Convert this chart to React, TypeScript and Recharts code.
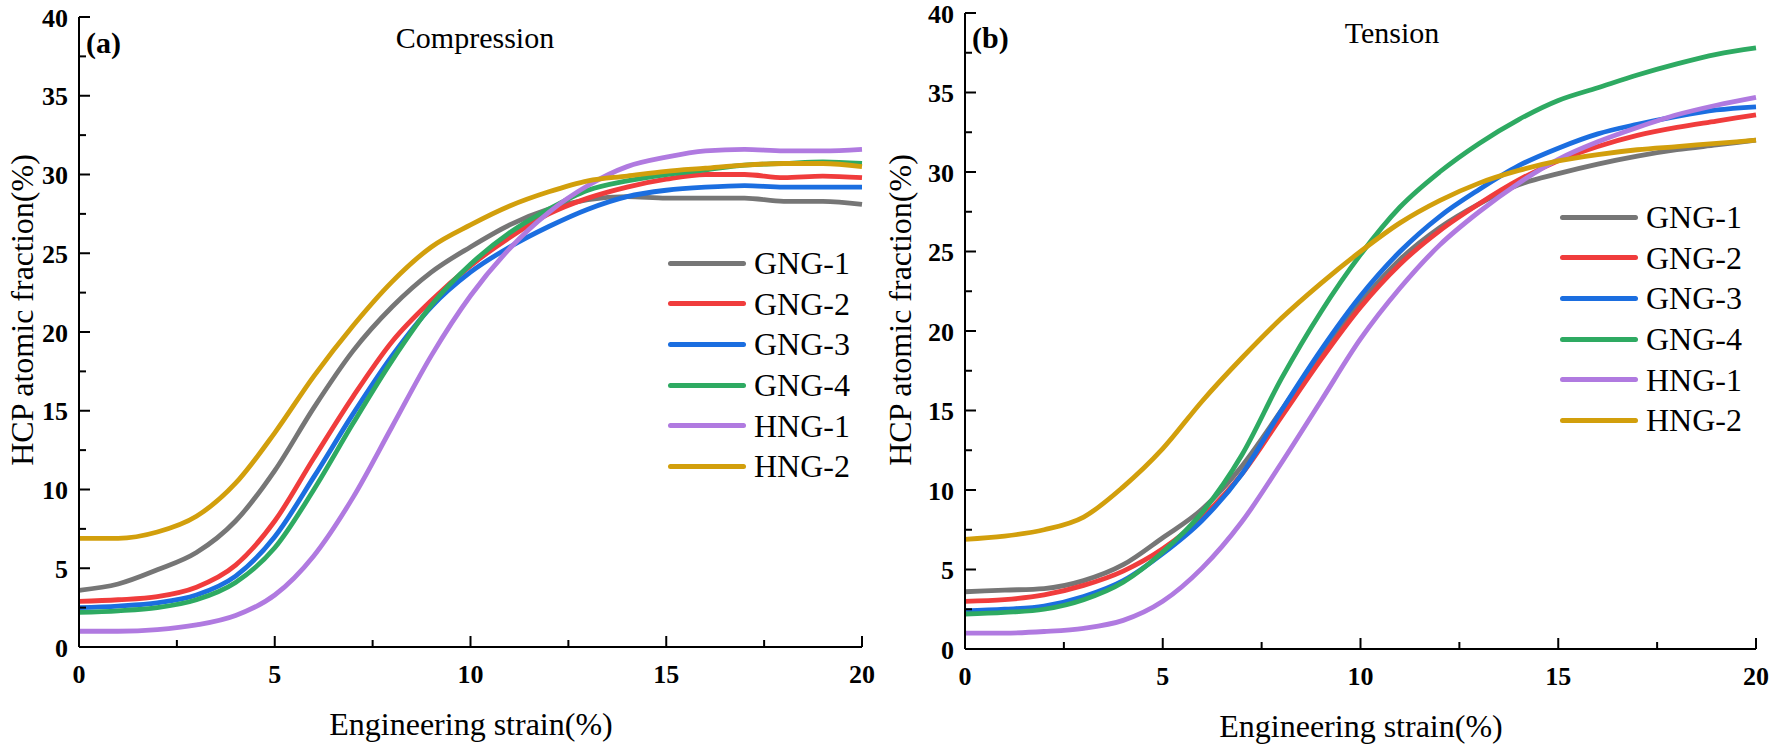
import { LineChart, Line, XAxis, YAxis, Legend } from 'recharts'

const FONT = "'Liberation Serif', 'Tinos', 'Times New Roman', 'DejaVu Serif', serif"

// engineering strain (%) sample points
const strain = [0, 1, 2, 3, 4, 5, 6, 7, 8, 9, 10, 11, 12, 13, 14, 15, 16, 17, 18, 19, 20]

const seriesNames = ['GNG-1', 'GNG-2', 'GNG-3', 'GNG-4', 'HNG-1', 'HNG-2']
const seriesColors = ['#767676', '#f03c3c', '#1b6ee0', '#2eaa62', '#b07ae0', '#d29f0c']

// (a) compression
const compGNG1 = [3.6, 4.0, 4.9, 6.0, 8.0, 11.2, 15.2, 18.8, 21.6, 23.8, 25.4, 26.8, 27.8, 28.4, 28.6, 28.5, 28.5, 28.5, 28.3, 28.3, 28.1]
const compGNG2 = [2.9, 3.0, 3.2, 3.8, 5.2, 8.0, 12.0, 15.9, 19.4, 22.0, 24.2, 26.0, 27.5, 28.5, 29.2, 29.7, 30.0, 30.0, 29.8, 29.9, 29.8]
const compGNG3 = [2.5, 2.6, 2.8, 3.3, 4.5, 7.0, 10.8, 14.8, 18.5, 21.6, 23.8, 25.4, 26.7, 27.8, 28.6, 29.0, 29.2, 29.3, 29.2, 29.2, 29.2]
const compGNG4 = [2.2, 2.3, 2.5, 3.0, 4.1, 6.3, 10.0, 14.2, 18.2, 21.7, 24.3, 26.3, 27.8, 29.0, 29.6, 30.0, 30.3, 30.6, 30.7, 30.8, 30.7]
const compHNG1 = [1.0, 1.0, 1.1, 1.4, 2.0, 3.3, 5.8, 9.5, 14.0, 18.5, 22.3, 25.3, 27.6, 29.3, 30.5, 31.1, 31.5, 31.6, 31.5, 31.5, 31.6]
const compHNG2 = [6.9, 6.9, 7.3, 8.3, 10.4, 13.6, 17.2, 20.4, 23.2, 25.4, 26.8, 28.0, 28.9, 29.6, 29.9, 30.2, 30.4, 30.6, 30.7, 30.7, 30.5]

// (b) tension
const tensGNG1 = [3.6, 3.7, 3.8, 4.3, 5.3, 7.0, 8.8, 11.5, 15.0, 18.6, 21.8, 24.5, 26.5, 28.0, 29.2, 29.9, 30.5, 31.0, 31.4, 31.7, 32.0]
const tensGNG2 = [3.0, 3.1, 3.4, 4.0, 4.9, 6.3, 8.3, 11.0, 14.6, 18.2, 21.5, 24.2, 26.3, 28.0, 29.5, 30.7, 31.6, 32.3, 32.8, 33.2, 33.6]
const tensGNG3 = [2.4, 2.5, 2.7, 3.3, 4.3, 6.0, 8.1, 11.0, 15.0, 18.8, 22.2, 25.0, 27.2, 28.9, 30.4, 31.5, 32.4, 33.0, 33.5, 33.9, 34.1]
const tensGNG4 = [2.2, 2.3, 2.5, 3.1, 4.2, 6.1, 8.6, 12.2, 17.0, 21.2, 24.8, 27.8, 30.0, 31.8, 33.3, 34.5, 35.3, 36.1, 36.8, 37.4, 37.8]
const tensHNG1 = [1.0, 1.0, 1.1, 1.3, 1.8, 3.0, 5.1, 8.0, 11.7, 15.6, 19.5, 22.7, 25.4, 27.5, 29.3, 30.8, 31.9, 32.8, 33.6, 34.2, 34.7]
const tensHNG2 = [6.9, 7.1, 7.5, 8.3, 10.2, 12.6, 15.6, 18.3, 20.8, 23.0, 25.0, 26.8, 28.2, 29.3, 30.1, 30.7, 31.1, 31.4, 31.6, 31.8, 32.0]

const xTicks = [0, 2.5, 5, 7.5, 10, 12.5, 15, 17.5, 20]
const yTicks = [0, 2.5, 5, 7.5, 10, 12.5, 15, 17.5, 20, 22.5, 25, 27.5, 30, 32.5, 35, 37.5, 40]

function buildRows(cols: number[][]) {
    return strain.map((s, i) => {
        const row: Record<string, number> = { strain: s }
        seriesNames.forEach((n, j) => {
            row[n] = cols[j][i]
        })
        return row
    })
}

const compressionRows = buildRows([compGNG1, compGNG2, compGNG3, compGNG4, compHNG1, compHNG2])
const tensionRows = buildRows([tensGNG1, tensGNG2, tensGNG3, tensGNG4, tensHNG1, tensHNG2])

const axisLine = { stroke: '#000', strokeWidth: 2 }

// inward ticks, label only on the majors
const YTick = ({ x, y, payload }: any) => {
    const major = payload.value % 5 === 0
    return (
        <g>
            <line x1={x} y1={y} x2={x + (major ? 11 : 7)} y2={y} stroke="#000" strokeWidth={2} />
            {major && (
                <text x={x - 11} y={y + 1} textAnchor="end" dominantBaseline="central" style={{ fontFamily: FONT }} fontSize={26} fontWeight="bold" fill="#000">
                    {payload.value}
                </text>
            )}
        </g>
    )
}

const XTick = ({ x, y, payload }: any) => {
    const major = payload.value % 5 === 0
    return (
        <g>
            <line x1={x} y1={y} x2={x} y2={y - (major ? 11 : 7)} stroke="#000" strokeWidth={2} />
            {major && (
                <text x={x} y={y + 27} textAnchor="middle" dominantBaseline="central" style={{ fontFamily: FONT }} fontSize={26} fontWeight="bold" fill="#000">
                    {payload.value}
                </text>
            )}
        </g>
    )
}

const LegendBox = ({ payload }: any) => (
    <div style={{ fontFamily: FONT }}>
        {(payload || []).map((e: any) => (
            <div key={e.value} style={{ display: 'flex', alignItems: 'center', height: 40.6 }}>
                <div style={{ width: 78, height: 5, borderRadius: 3, background: e.color, marginRight: 8 }} />
                <span style={{ fontSize: 32, lineHeight: '32px', color: '#000' }}>{e.value}</span>
            </div>
        ))}
    </div>
)

interface PanelProps {
    rows: Record<string, number>[]
    width: number
    yAxisWidth: number
    top: number
    right: number
    xAxisHeight: number
    legendLeft: number
    legendTop: number
}

function Panel({ rows, width, yAxisWidth, top, right, xAxisHeight, legendLeft, legendTop }: PanelProps) {
    return (
        <LineChart width={width} height={745} data={rows} margin={{ top, right, bottom: 0, left: 0 }}>
            <XAxis
                dataKey="strain"
                type="number"
                domain={[0, 20]}
                ticks={xTicks}
                interval={0}
                tickSize={0}
                tickMargin={0}
                height={xAxisHeight}
                axisLine={axisLine}
                tick={<XTick />}
            />
            <XAxis xAxisId="top" dataKey="strain" orientation="top" type="number" domain={[0, 20]} height={0} tick={false} tickLine={false} axisLine={axisLine} />
            <YAxis type="number" domain={[0, 40]} ticks={yTicks} interval={0} width={yAxisWidth} tickSize={0} tickMargin={0} axisLine={axisLine} tick={<YTick />} />
            <YAxis yAxisId="right" orientation="right" type="number" domain={[0, 40]} width={0} tick={false} tickLine={false} axisLine={axisLine} />
            <Legend
                layout="vertical"
                align="center"
                verticalAlign="middle"
                content={<LegendBox />}
                wrapperStyle={{ left: legendLeft, top: legendTop, width: 'auto', bottom: 'auto', right: 'auto' }}
            />
            {seriesNames.map((n, i) => (
                <Line key={n} dataKey={n} name={n} type="monotone" stroke={seriesColors[i]} strokeWidth={4.8} dot={false} isAnimationActive={false} />
            ))}
        </LineChart>
    )
}

const txt = (extra: React.CSSProperties): React.CSSProperties => ({
    position: 'absolute',
    fontFamily: FONT,
    color: '#000',
    whiteSpace: 'nowrap',
    lineHeight: 1,
    ...extra,
})

export default function App() {
    return (
        <div style={{ position: 'absolute', left: 0, top: 0, width: 1772, height: 745, background: '#fff', overflow: 'hidden', fontFamily: FONT }}>
            <div style={{ position: 'absolute', left: 0, top: 0 }}>
                <Panel rows={compressionRows} width={900} yAxisWidth={79} top={17} right={38} xAxisHeight={98} legendLeft={668} legendTop={243} />
            </div>
            <div style={{ position: 'absolute', left: 900, top: 0 }}>
                <Panel rows={tensionRows} width={872} yAxisWidth={65} top={13} right={16} xAxisHeight={96} legendLeft={660} legendTop={197} />
            </div>

            <div style={txt({ left: 86, top: 43, fontSize: 30, fontWeight: 'bold', transform: 'translateY(-50%)' })}>(a)</div>
            <div style={txt({ left: 475, top: 38, fontSize: 30, transform: 'translate(-50%, -50%)' })}>Compression</div>
            <div style={txt({ left: 972, top: 38, fontSize: 30, fontWeight: 'bold', transform: 'translateY(-50%)' })}>(b)</div>
            <div style={txt({ left: 1392, top: 33, fontSize: 30, transform: 'translate(-50%, -50%)' })}>Tension</div>

            <div style={txt({ left: 471, top: 724, fontSize: 32, transform: 'translate(-50%, -50%)' })}>Engineering strain(%)</div>
            <div style={txt({ left: 1361, top: 726, fontSize: 32, transform: 'translate(-50%, -50%)' })}>Engineering strain(%)</div>

            <div style={txt({ left: 22, top: 310, fontSize: 32, transform: 'translate(-50%, -50%) rotate(-90deg)' })}>HCP atomic fraction(%)</div>
            <div style={txt({ left: 900, top: 310, fontSize: 32, transform: 'translate(-50%, -50%) rotate(-90deg)' })}>HCP atomic fraction(%)</div>
        </div>
    )
}
